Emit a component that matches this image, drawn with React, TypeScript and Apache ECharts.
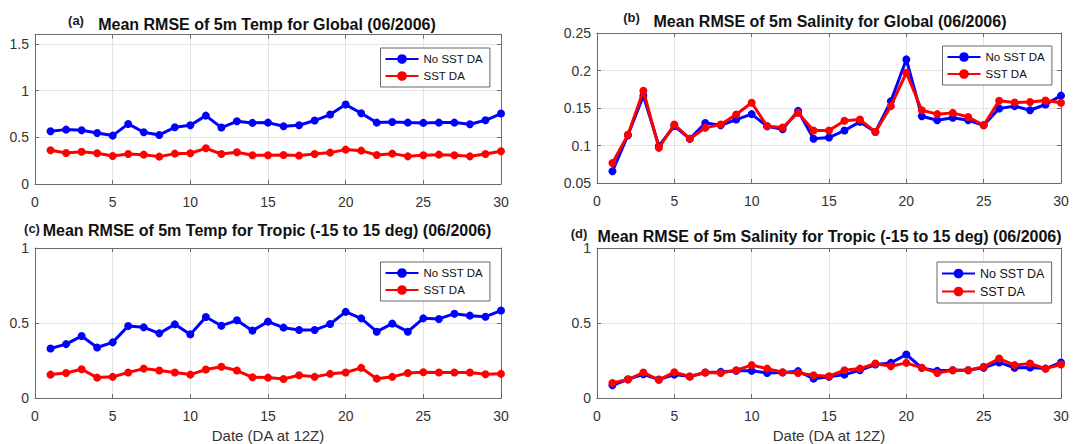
import React, { useEffect, useRef } from 'react';
import * as echarts from 'echarts';

const days = [1, 2, 3, 4, 5, 6, 7, 8, 9, 10, 11, 12, 13, 14, 15, 16, 17, 18, 19, 20, 21, 22, 23, 24, 25, 26, 27, 28, 29, 30];
const xTicks = [0, 5, 10, 15, 20, 25, 30];

const seriesNames = ['No SST DA', 'SST DA'];

// (a) Temp Global
const tempGlobalNoSST = [0.564, 0.582, 0.575, 0.546, 0.518, 0.643, 0.554, 0.525, 0.607, 0.629, 0.732, 0.604, 0.671, 0.654, 0.657, 0.618, 0.629, 0.679, 0.743, 0.85, 0.757, 0.657, 0.664, 0.657, 0.654, 0.657, 0.657, 0.639, 0.682, 0.754];
const tempGlobalSST = [0.361, 0.332, 0.346, 0.329, 0.3, 0.321, 0.314, 0.293, 0.325, 0.329, 0.382, 0.321, 0.339, 0.307, 0.307, 0.311, 0.304, 0.321, 0.336, 0.368, 0.357, 0.311, 0.325, 0.296, 0.307, 0.314, 0.307, 0.296, 0.321, 0.35];

// (b) Salinity Global
const salGlobalNoSST = [0.0656, 0.1137, 0.1663, 0.0994, 0.126, 0.109, 0.13, 0.127, 0.1346, 0.1418, 0.1257, 0.1217, 0.1462, 0.109, 0.1106, 0.12, 0.1315, 0.118, 0.159, 0.2148, 0.139, 0.1337, 0.137, 0.1337, 0.127, 0.1493, 0.1525, 0.147, 0.1547, 0.1665];
const salGlobalSST = [0.0767, 0.1145, 0.173, 0.0968, 0.128, 0.109, 0.1235, 0.128, 0.1413, 0.157, 0.1257, 0.124, 0.1435, 0.12, 0.12, 0.1329, 0.1346, 0.118, 0.1525, 0.197, 0.147, 0.1418, 0.1435, 0.138, 0.127, 0.1596, 0.1573, 0.158, 0.16, 0.157];

// (c) Temp Tropic
const tempTropicNoSST = [0.33, 0.359, 0.413, 0.337, 0.371, 0.48, 0.471, 0.431, 0.491, 0.424, 0.54, 0.482, 0.518, 0.449, 0.509, 0.469, 0.453, 0.453, 0.493, 0.574, 0.531, 0.442, 0.496, 0.442, 0.531, 0.527, 0.562, 0.549, 0.542, 0.583];
const tempTropicSST = [0.156, 0.167, 0.192, 0.136, 0.141, 0.17, 0.196, 0.183, 0.17, 0.156, 0.19, 0.208, 0.183, 0.138, 0.136, 0.127, 0.152, 0.141, 0.161, 0.17, 0.201, 0.129, 0.141, 0.167, 0.172, 0.17, 0.17, 0.17, 0.158, 0.161];

// (d) Salinity Tropic
const salTropicNoSST = [0.085, 0.125, 0.158, 0.123, 0.156, 0.143, 0.17, 0.174, 0.181, 0.181, 0.167, 0.17, 0.179, 0.129, 0.141, 0.156, 0.185, 0.223, 0.234, 0.29, 0.201, 0.181, 0.185, 0.185, 0.201, 0.237, 0.201, 0.203, 0.196, 0.237];
const salTropicSST = [0.1, 0.123, 0.17, 0.121, 0.172, 0.143, 0.17, 0.167, 0.185, 0.219, 0.196, 0.172, 0.167, 0.152, 0.145, 0.185, 0.196, 0.23, 0.212, 0.234, 0.201, 0.167, 0.185, 0.185, 0.208, 0.263, 0.219, 0.23, 0.196, 0.223];

const panelTitles = [
  'Mean RMSE of 5m Temp for Global (06/2006)',
  'Mean RMSE of 5m Salinity for Global (06/2006)',
  'Mean RMSE of 5m Temp for Tropic (-15 to 15 deg) (06/2006)',
  'Mean RMSE of 5m Salinity for Tropic (-15 to 15 deg) (06/2006)',
];
const panelLetters = ['(a)', '(b)', '(c)', '(d)'];
const xAxisName = 'Date (DA at 12Z)';

const yRanges = [
  { min: 0, max: 1.6, interval: 0.5 },
  { min: 0.05, max: 0.25, interval: 0.05 },
  { min: 0, max: 1, interval: 0.5 },
  { min: 0, max: 1, interval: 0.5 },
];

const panelData = [
  [tempGlobalNoSST, tempGlobalSST],
  [salGlobalNoSST, salGlobalSST],
  [tempTropicNoSST, tempTropicSST],
  [salTropicNoSST, salTropicSST],
];

const FONT = '"Liberation Sans", Arial, sans-serif';
const AXIS_COLOR = '#6b6b6b';
const GRID_COLOR = '#e4e4e4';
const COLORS = ['#0000ff', '#ff0000'];

const grids = [
  { left: 35, top: 34.5, width: 466, height: 149.5 },
  { left: 597, top: 33, width: 464, height: 150 },
  { left: 35, top: 248, width: 466, height: 150 },
  { left: 597, top: 248, width: 464, height: 150 },
];

const titlePos = [
  { x: 267, y: 24, lx: 76, ly: 20.5 },
  { x: 830, y: 21.5, lx: 631.5, ly: 17 },
  { x: 267, y: 230, lx: 32, ly: 228 },
  { x: 829.5, y: 236.5, lx: 579, ly: 233 },
];

const legendPos = [
  { left: 380.5, top: 48, fontSize: 11.5 },
  { left: 942.5, top: 46, fontSize: 11.5 },
  { left: 380.5, top: 262, fontSize: 11.5 },
  { left: 937, top: 262, fontSize: 12.5 },
];

function buildOption() {
  const xAxis: any[] = [];
  const yAxis: any[] = [];
  const series: any[] = [];
  const legend: any[] = [];
  const graphic: any[] = [];

  grids.forEach((g, i) => {
    const isBottom = i >= 2;
    xAxis.push({
      type: 'value',
      gridIndex: i,
      position: 'bottom',
      min: xTicks[0],
      max: xTicks[xTicks.length - 1],
      interval: 5,
      axisLine: { show: true, onZero: false, lineStyle: { color: AXIS_COLOR, width: 1 } },
      axisTick: { show: true, inside: true, length: 4, lineStyle: { color: AXIS_COLOR } },
      splitLine: { show: true, lineStyle: { color: GRID_COLOR, width: 1 } },
      axisLabel: { fontSize: 14, color: '#333', fontFamily: FONT, margin: 11 },
      name: isBottom ? xAxisName : '',
      nameLocation: 'middle',
      nameGap: 30,
      nameTextStyle: { fontSize: 15, color: '#333', fontFamily: FONT },
    });
    xAxis.push({
      type: 'value',
      gridIndex: i,
      position: 'top',
      min: xTicks[0],
      max: xTicks[xTicks.length - 1],
      interval: 5,
      axisLine: { show: true, onZero: false, lineStyle: { color: AXIS_COLOR, width: 1 } },
      axisTick: { show: true, inside: true, length: 4, lineStyle: { color: AXIS_COLOR } },
      splitLine: { show: false },
      axisLabel: { show: false },
    });
    const r = yRanges[i];
    yAxis.push({
      type: 'value',
      gridIndex: i,
      position: 'left',
      min: r.min,
      max: r.max,
      interval: r.interval,
      axisLine: { show: true, onZero: false, lineStyle: { color: AXIS_COLOR, width: 1 } },
      axisTick: { show: true, inside: true, length: 4, lineStyle: { color: AXIS_COLOR } },
      splitLine: { show: true, lineStyle: { color: GRID_COLOR, width: 1 } },
      axisLabel: {
        fontSize: 14,
        color: '#333',
        fontFamily: FONT,
        margin: 6,
        showMaxLabel: i === 0 ? false : true,
      },
    });
    yAxis.push({
      type: 'value',
      gridIndex: i,
      position: 'right',
      min: r.min,
      max: r.max,
      interval: r.interval,
      axisLine: { show: true, onZero: false, lineStyle: { color: AXIS_COLOR, width: 1 } },
      axisTick: { show: true, inside: true, length: 4, lineStyle: { color: AXIS_COLOR } },
      splitLine: { show: false },
      axisLabel: { show: false },
    });

    panelData[i].forEach((vals, k) => {
      series.push({
        type: 'line',
        name: seriesNames[k],
        xAxisIndex: 2 * i,
        yAxisIndex: 2 * i,
        data: days.map((d, j) => [d, vals[j]]),
        symbol: 'circle',
        symbolSize: 8,
        showSymbol: true,
        lineStyle: { color: COLORS[k], width: 3 },
        itemStyle: { color: COLORS[k] },
        z: 2 + k,
      });
    });

    const lp = legendPos[i];
    legend.push({
      data: seriesNames,
      orient: 'vertical',
      left: lp.left,
      top: lp.top,
      itemWidth: 33,
      itemHeight: 12,
      itemGap: 5,
      padding: [5, 7, 5, 4],
      borderColor: '#666',
      borderWidth: 1,
      backgroundColor: '#fff',
      selectedMode: false,
      textStyle: { fontSize: lp.fontSize, color: '#111', fontFamily: FONT },
    });

    const tp = titlePos[i];
    graphic.push({
      type: 'text',
      x: tp.x,
      y: tp.y,
      style: {
        text: panelTitles[i],
        font: 'bold 16px ' + FONT,
        fill: '#111',
        align: 'center',
        verticalAlign: 'middle',
      },
    });
    graphic.push({
      type: 'text',
      x: tp.lx,
      y: tp.ly,
      style: {
        text: panelLetters[i],
        font: 'bold 13px ' + FONT,
        fill: '#1a1a2a',
        align: 'center',
        verticalAlign: 'middle',
      },
    });
  });

  return {
    animation: false,
    backgroundColor: '#ffffff',
    grid: grids.map((g) => ({ ...g, show: true, backgroundColor: '#fff', borderWidth: 0 })),
    xAxis,
    yAxis,
    series,
    legend,
    graphic,
  };
}

export default function App() {
  const ref = useRef<HTMLDivElement>(null);
  useEffect(() => {
    document.body.style.margin = '0';
    if (!ref.current) return;
    const chart = echarts.init(ref.current, undefined, { renderer: 'svg' });
    chart.setOption(buildOption() as any);
    return () => {
      chart.dispose();
    };
  }, []);
  return <div ref={ref} style={{ width: 1076, height: 444 }} />;
}
